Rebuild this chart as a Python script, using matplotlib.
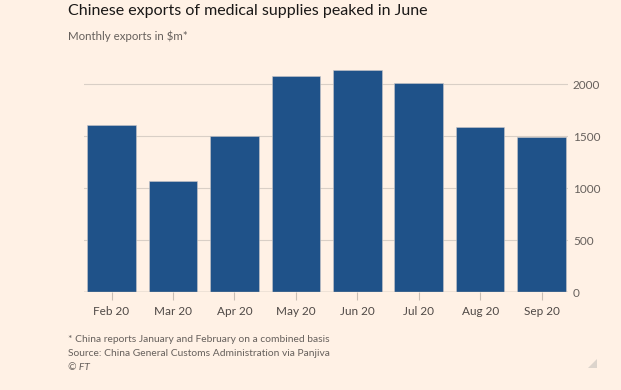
import matplotlib
matplotlib.use("Agg")
import matplotlib.pyplot as plt
from matplotlib.patches import Polygon

months = ["Feb 20", "Mar 20", "Apr 20", "May 20", "Jun 20", "Jul 20", "Aug 20", "Sep 20"]
exports = [1604, 1066, 1507, 2080, 2138, 2016, 1591, 1491]
yticks = [0, 500, 1000, 1500, 2000]

BG = "#fff1e5"
BAR = "#1f5289"
GRID = "#d9cfc6"
TXT = "#66605c"

plt.rcParams['font.family'] = ['Lato', 'DejaVu Sans']

fig = plt.figure(figsize=(6.21, 3.90), dpi=100, facecolor=BG)
ax = fig.add_axes([84/621, 1-292.3/390, (568-84)/621, 228.8/390])
ax.set_facecolor(BG)

x = list(range(len(months)))
ax.bar(x, exports, width=0.79, color=BAR, edgecolor="#c9c6c8", linewidth=0.4, zorder=3)

ax.set_xlim(-0.448, 7.43)
ax.set_ylim(0, 2200)
ax.set_yticks(yticks)
ax.set_yticklabels([str(v) for v in yticks])
ax.yaxis.tick_right()
ax.grid(axis='y', color=GRID, linewidth=0.8, zorder=0)
ax.axhline(0, color="#b8aea6", linewidth=1.0, zorder=4)
ax.set_xticks(x)
ax.set_xticklabels(months)
for s in ax.spines.values():
    s.set_visible(False)
ax.tick_params(axis='y', length=0, pad=3.5, labelsize=8.5, labelcolor=TXT)
ax.tick_params(axis='x', length=6, width=0.8, color="#c9beb4", pad=4, labelsize=8.5, labelcolor="#4f4946")

fig.text(68/621, 1-11/390, "Chinese exports of medical supplies peaked in June",
         fontsize=11.5, color="#1a1817", va='center', ha='left')
fig.text(68/621, 1-36/390, "Monthly exports in $m*", fontsize=8.3, color=TXT,
         va='center', ha='left')

fig.text(68/621, 1-340/390, "* China reports January and February on a combined basis",
         fontsize=7.4, color=TXT, va='center', ha='left')
fig.text(68/621, 1-353.5/390, "Source: China General Customs Administration via Panjiva",
         fontsize=7.4, color=TXT, va='center', ha='left')
fig.text(68/621, 1-367/390, "© FT", fontsize=7.4, color=TXT, style='italic',
         va='center', ha='left')

tri = Polygon([(597/621, 1-368/390), (597/621, 1-359/390), (588/621, 1-368/390)],
              closed=True, transform=fig.transFigure, facecolor="#dcd4cc", edgecolor='none')
fig.patches.append(tri)

fig.savefig("out.png", dpi=100, facecolor=BG)
